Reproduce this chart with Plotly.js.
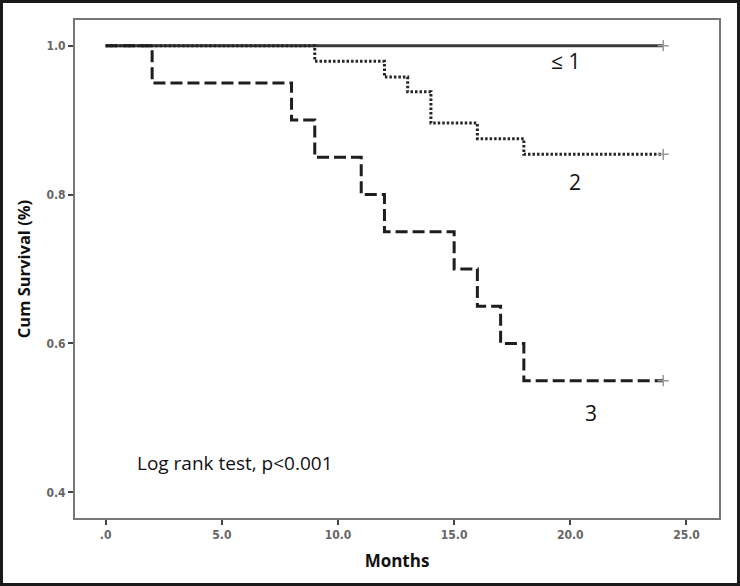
<!DOCTYPE html>
<html>
<head>
<meta charset="utf-8">
<script src="https://cdn.plot.ly/plotly-3.0.1.min.js"></script>
<style>
html,body{margin:0;padding:0;background:#fff;}
#frame{width:740px;height:586px;box-sizing:border-box;border:3px solid #1a1a1a;position:relative;overflow:hidden;}
#chart{position:absolute;left:-3px;top:-3px;width:740px;height:586px;}
</style>
</head>
<body>
<div id="frame"><div id="chart"></div></div>
<script>
// Kaplan-Meier step data (months, cumulative survival)
const group1Label = "≤ 1";
const group1Time = [0, 24];
const group1Surv = [1.0, 1.0];

const group2Label = "2";
const group2Time = [0, 9, 12, 13, 14, 16, 18, 24];
const group2Surv = [1.0, 0.979, 0.958, 0.938, 0.896, 0.875, 0.854, 0.854];

const group3Label = "3";
const group3Time = [0, 2, 8, 9, 11, 12, 15, 16, 17, 18, 24];
const group3Surv = [1.0, 0.95, 0.90, 0.85, 0.80, 0.75, 0.70, 0.65, 0.60, 0.55, 0.55];

// censored observations (end of follow-up)
const censorTime = [24, 24, 24];
const censorSurv = [1.0, 0.854, 0.55];

const xTickVals = [0, 5, 10, 15, 20, 25];
const xTickText = [".0", "5.0", "10.0", "15.0", "20.0", "25.0"];
const yTickVals = [0.4, 0.6, 0.8, 1.0];
const yTickText = ["0.4", "0.6", "0.8", "1.0"];

const annotationText = "Log rank test, p<0.001";

const traces = [
  {x: group1Time, y: group1Surv, mode: "lines", line: {shape: "hv", color: "#3a3a3a", width: 3}, name: group1Label, hoverinfo: "none"},
  {x: group2Time, y: group2Surv, mode: "lines", line: {shape: "hv", color: "#262626", width: 3, dash: "2.5px,2px"}, name: group2Label, hoverinfo: "none"},
  {x: group3Time, y: group3Surv, mode: "lines", line: {shape: "hv", color: "#1e1e1e", width: 3, dash: "12px,5px"}, name: group3Label, hoverinfo: "none"},
  {x: censorTime, y: censorSurv, mode: "markers", marker: {symbol: "cross-thin", size: 8, line: {color: "#9a9a9a", width: 1.5}}, hoverinfo: "none"}
];

const labelFont = {family: "Open Sans, sans-serif", size: 21, color: "#111"};
const tickFont = {family: "DejaVu Sans Condensed, DejaVu Sans, sans-serif", size: 12, color: "#666", weight: "bold"};

const layout = {
  width: 740, height: 586,
  margin: {l: 75, r: 21, t: 20, b: 68},
  paper_bgcolor: "#fff", plot_bgcolor: "#fff",
  showlegend: false,
  xaxis: {
    range: [-1.32, 26.4],
    tickvals: xTickVals, ticktext: xTickText,
    ticks: "outside", ticklen: 5, tickwidth: 2, tickcolor: "#444",
    showline: true, linecolor: "#777", linewidth: 2, mirror: true,
    showgrid: false, zeroline: false,
    tickfont: tickFont,
    title: {text: "Months", font: {family: "Open Sans, sans-serif", size: 17, color: "#111", weight: "bold"}, standoff: 14}
  },
  yaxis: {
    range: [0.3655, 1.0345],
    tickvals: yTickVals, ticktext: yTickText,
    ticks: "outside", ticklen: 5, tickwidth: 2, tickcolor: "#444",
    showline: true, linecolor: "#777", linewidth: 2, mirror: true,
    showgrid: false, zeroline: false,
    tickfont: tickFont,
    title: {text: "Cum Survival (%)", font: {family: "Open Sans, sans-serif", size: 16.5, color: "#111", weight: "bold"}, standoff: 12}
  },
  annotations: [
    {x: 19.8, y: 0.979, xref: "x", yref: "y", text: group1Label, showarrow: false, font: labelFont},
    {x: 20.2, y: 0.817, xref: "x", yref: "y", text: group2Label, showarrow: false, font: labelFont},
    {x: 20.9, y: 0.506, xref: "x", yref: "y", text: group3Label, showarrow: false, font: labelFont},
    {x: 1.25, y: 0.44, xref: "x", yref: "y", xanchor: "left", text: annotationText, showarrow: false, font: {family: "Open Sans, sans-serif", size: 19, color: "#111"}}
  ]
};

Plotly.newPlot("chart", traces, layout, {staticPlot: true, displayModeBar: false});
</script>
</body>
</html>
